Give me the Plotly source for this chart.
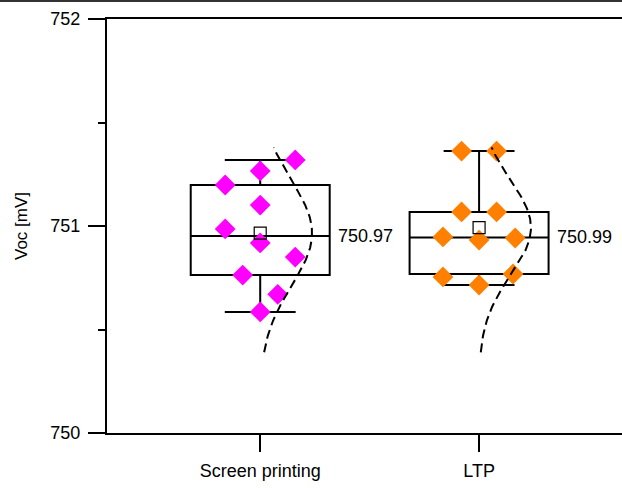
import numpy as np
import plotly.graph_objects as go

categories = ["Screen printing", "LTP"]
cat_pos = [1, 2]
colors = ["#FF00FF", "#FF8000"]

sp_values = [751.319, 751.266, 751.198, 751.101, 750.986, 750.918, 750.850, 750.763, 750.670, 750.585]
sp_offsets = [0.16, 0.0, -0.16, 0.0, -0.16, 0.0, 0.16, -0.08, 0.08, 0.0]

ltp_values = [751.362, 751.362, 751.068, 751.068, 750.947, 750.932, 750.942, 750.754, 750.715, 750.768]
ltp_offsets = [-0.08, 0.08, -0.08, 0.08, -0.165, 0.0, 0.165, -0.165, 0.0, 0.155]

series = [sp_values, ltp_values]
offsets = [sp_offsets, ltp_offsets]

y_ticks = [750, 751, 752]
curve_span = [750.39, 751.38]

box_width = 0.635
curve_amp = 0.237

W, H = 622, 488
ML, MT, MB = 107, 19, 55

fig = go.Figure()

for name, pos, col, vals, offs in zip(categories, cat_pos, colors, series, offsets):
    vals = np.array(vals)
    fig.add_trace(go.Box(
        x=[pos] * len(vals), y=vals, name=name,
        boxpoints=False, quartilemethod="exclusive",
        width=box_width, whiskerwidth=0.51,
        line=dict(color="black", width=2),
        fillcolor="rgba(0,0,0,0)",
        showlegend=False, hoverinfo="skip",
    ))
    fig.add_trace(go.Scatter(
        x=[pos + o for o in offs], y=vals, mode="markers",
        marker=dict(symbol="diamond", size=16, color=col, line=dict(width=0)),
        showlegend=False, hoverinfo="skip",
    ))
    mu, sd = vals.mean(), vals.std(ddof=1)
    yy = np.linspace(curve_span[0], curve_span[1], 120)
    xx = pos + curve_amp * np.exp(-0.5 * ((yy - mu) / sd) ** 2)
    fig.add_trace(go.Scatter(
        x=xx, y=yy, mode="lines",
        line=dict(color="black", width=2, dash="9px,5px"),
        showlegend=False, hoverinfo="skip",
    ))
    fig.add_trace(go.Scatter(
        x=[pos], y=[mu], mode="markers",
        marker=dict(symbol="square-open", size=12, color="black", line=dict(width=1.2)),
        showlegend=False, hoverinfo="skip",
    ))
    fig.add_annotation(
        x=pos + box_width / 2, y=float(np.median(vals)),
        text=f"{mu:.2f}", showarrow=False, xanchor="left", yanchor="middle",
        xshift=6, font=dict(size=18, color="black"),
    )

plot_w = W - ML
plot_h = H - MT - MB
fig.add_shape(type="line", xref="paper", yref="paper",
              x0=-ML / plot_w, x1=1.0, y0=1 + (MT - 1) / plot_h, y1=1 + (MT - 1) / plot_h,
              line=dict(color="#333333", width=2))

fig.update_layout(
    width=W, height=H,
    margin=dict(l=ML, r=0, t=MT, b=MB),
    paper_bgcolor="white", plot_bgcolor="white",
    font=dict(family="Liberation Sans, Arial, sans-serif", size=18, color="black"),
    boxmode="overlay",
    showlegend=False,
)

fig.update_xaxes(
    range=[0.3, 2 + (W - 479) / 219],
    tickvals=cat_pos, ticktext=categories,
    showline=True, linecolor="black", linewidth=2, mirror=True,
    ticks="outside", ticklen=17, tickwidth=2, tickcolor="black",
    showgrid=False, zeroline=False,
    tickfont=dict(size=18), ticklabelstandoff=3,
)

fig.update_yaxes(
    range=[750, 752], tickvals=y_ticks,
    showline=True, linecolor="black", linewidth=2, mirror=False,
    ticks="outside", ticklen=17, tickwidth=2, tickcolor="black",
    minor=dict(dtick=0.5, ticks="outside", ticklen=7, tickwidth=2, tickcolor="black", showgrid=False),
    showgrid=False, zeroline=False,
    title=dict(text="Voc [mV]", font=dict(size=17), standoff=18),
    tickfont=dict(size=18), ticklabelstandoff=4,
)

fig.write_html("out.html", config={"displayModeBar": False})
